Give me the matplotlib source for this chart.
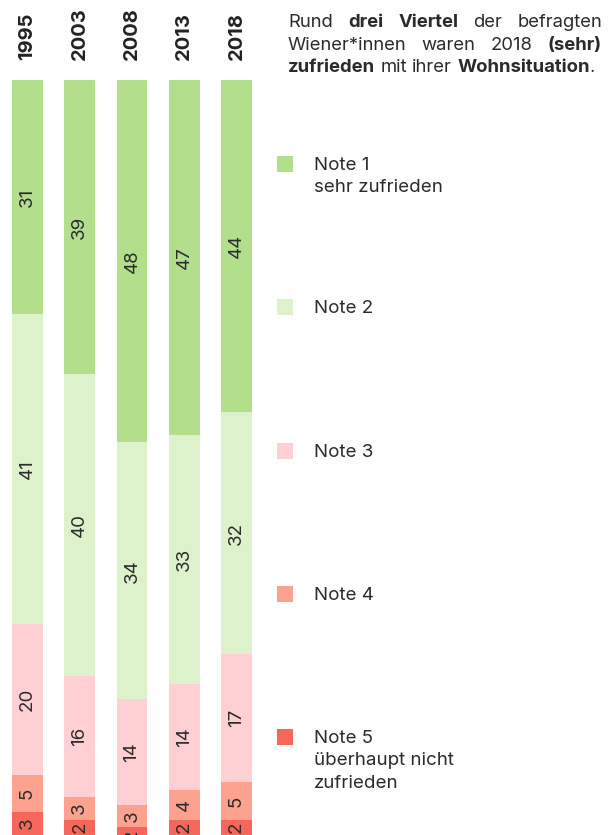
import matplotlib
matplotlib.use("Agg")
import matplotlib.pyplot as plt

plt.rcParams['font.family'] = ['Inter', 'DejaVu Sans']

years = ["1995", "2003", "2008", "2013", "2018"]
note1 = [31, 39, 48, 47, 44]
note2 = [41, 40, 34, 33, 32]
note3 = [20, 16, 14, 14, 17]
note4 = [5, 3, 3, 4, 5]
note5 = [3, 2, 2, 2, 2]
series = [note1, note2, note3, note4, note5]

colors = ["#b3df8c", "#ddf1cb", "#fed0d4", "#fca28e", "#f5675a"]
legend_labels = [["Note 1", "sehr zufrieden"], ["Note 2"], ["Note 3"], ["Note 4"],
                 ["Note 5", "überhaupt nicht", "zufrieden"]]

W, H = 611, 835
fig = plt.figure(figsize=(W / 100, H / 100), dpi=100)
fig.patch.set_facecolor("white")

def fx(px):
    return px / W

def fy(py):
    return 1 - py / H

TEXT = "#2b2b2b"

# stacked bars, Note 1 on top
ax = fig.add_axes([fx(1.4), 0, fx(261.2), 755 / H])
xs = list(range(len(years)))
bottom = [0] * len(years)
for vals, col in zip(series, colors):
    ax.bar(xs, vals, bottom=bottom, width=0.593, color=col, linewidth=0)
    for i, v in enumerate(vals):
        ax.text(i, bottom[i] + v / 2, str(v), rotation=90, ha="center",
                va="center", fontsize=13.5, color=TEXT, fontweight="normal",
                rotation_mode="anchor")
    bottom = [b + v for b, v in zip(bottom, vals)]
ax.set_xlim(-0.5, 4.5)
ax.set_ylim(100, 0)
ax.axis("off")

# year labels above the bars
for i, y in enumerate(years):
    xd = ax.transData.transform((i, 0))[0]
    fig.text(xd / W, fy(60), y, rotation=90, ha="center", va="bottom",
             fontsize=14.5, fontweight="bold", color="#222222")

# legend
leg_y = [156, 299, 443, 586, 729]
for yy, col, lab in zip(leg_y, colors, legend_labels):
    fig.patches.append(plt.Rectangle((fx(277), fy(yy + 16)), fx(16), 16 / H,
                                     transform=fig.transFigure, color=col,
                                     linewidth=0))
    for k, line in enumerate(lab):
        fig.text(fx(314), fy(yy + 13.7 + 22.5 * k), line, ha="left",
                 va="baseline", fontsize=13.5, color=TEXT)

# justified description text
lines = [
    [("Rund", "normal"), ("drei", "bold"), ("Viertel", "bold"), ("der", "normal"),
     ("befragten", "normal")],
    [("Wiener*innen", "normal"), ("waren", "normal"), ("2018", "normal"),
     ("(sehr)", "bold")],
    [("zufrieden", "bold"), ("mit", "normal"), ("ihrer", "normal"),
     ("Wohnsituation", "bold"), (".", "normal")],
]
x0, x1 = 288, 602
baselines = [27, 50, 72]
renderer = fig.canvas.get_renderer()
fs = 13.3

def width_of(s, w):
    t = fig.text(0, 0, s, fontsize=fs, fontweight=w)
    bb = t.get_window_extent(renderer)
    t.remove()
    return bb.width

space_w = width_of("a a", "normal") - width_of("aa", "normal")
for li, (words, base) in enumerate(zip(lines, baselines)):
    widths = [width_of(w, wt) for w, wt in words]
    last = li == len(lines) - 1
    if last:
        gaps = [space_w] * (len(words) - 1)
        gaps[-1] = 0
    else:
        g = (x1 - x0 - sum(widths)) / (len(words) - 1)
        gaps = [g] * (len(words) - 1)
    x = x0
    for k, ((w, wt), wd) in enumerate(zip(words, widths)):
        fig.text(fx(x), fy(base), w, fontsize=fs, fontweight=wt, color=TEXT,
                 ha="left", va="baseline")
        x += wd + (gaps[k] if k < len(gaps) else 0)

fig.savefig("out.png", dpi=100, facecolor="white")
